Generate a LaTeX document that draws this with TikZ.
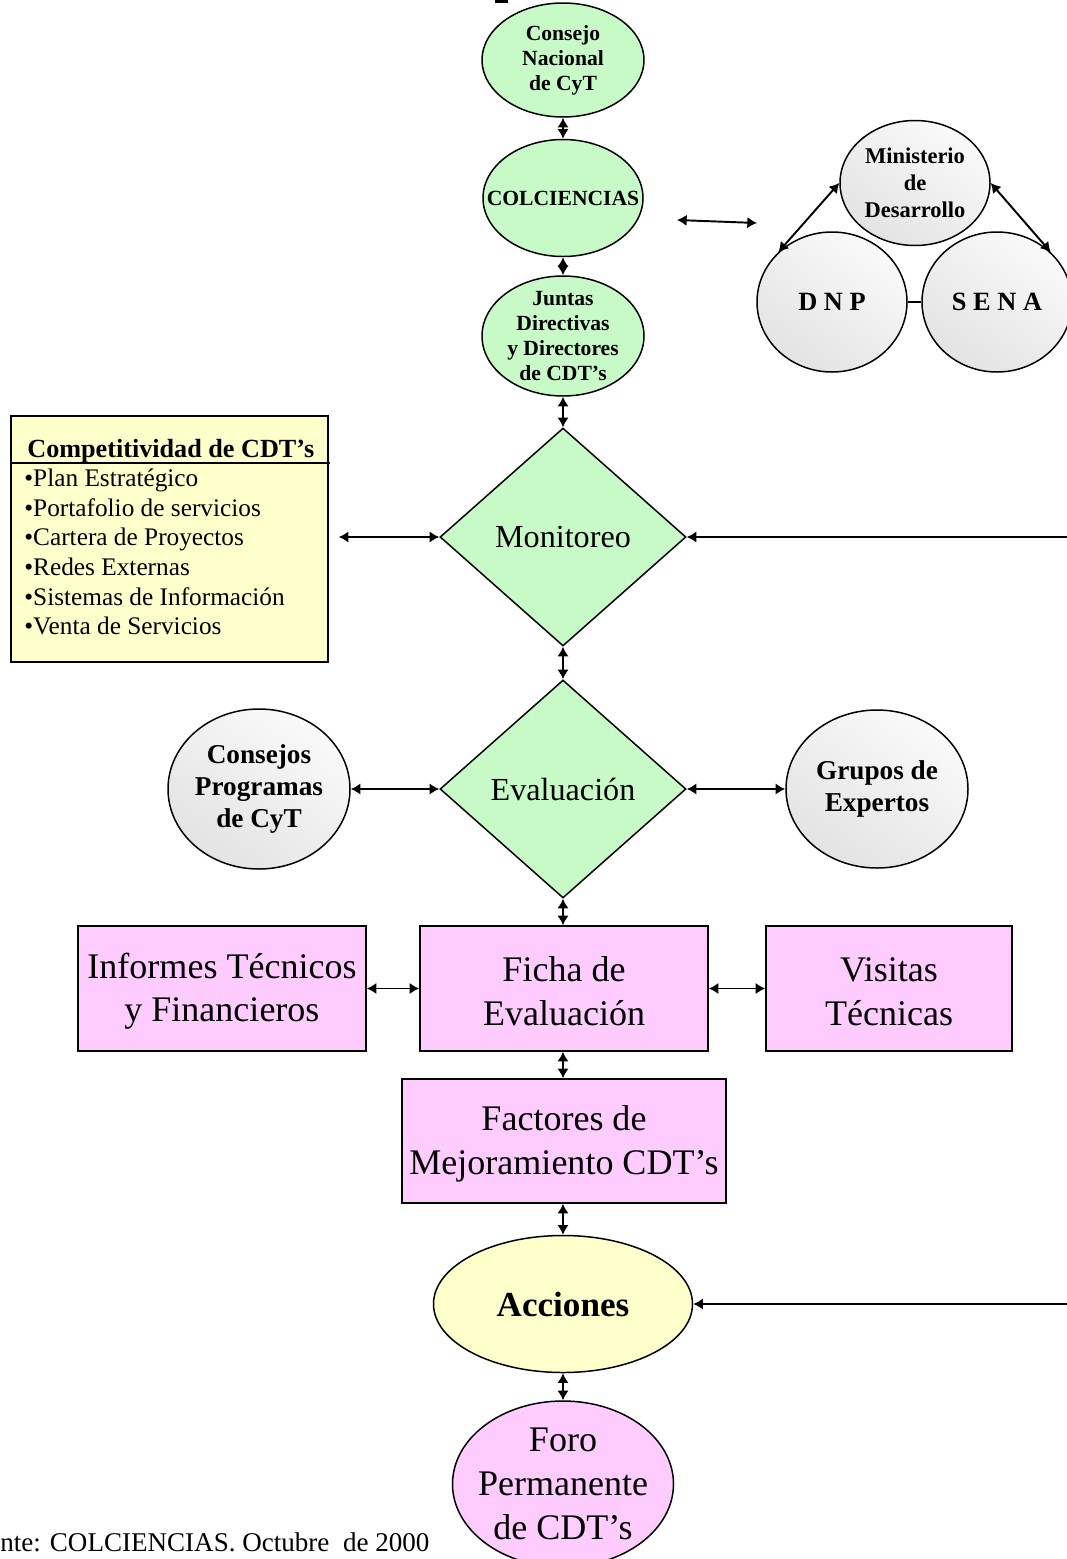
\documentclass[tikz,border=0pt]{standalone}
\usepackage{fontspec}
\setmainfont{Liberation Serif}
\usetikzlibrary{shapes.geometric,arrows.meta}
\definecolor{verde}{RGB}{200,250,200}
\definecolor{rosa}{RGB}{255,204,255}
\definecolor{amar}{RGB}{255,255,204}

\begin{document}
\begin{tikzpicture}[x=0.02cm,y=-0.02cm,
  every node/.style={inner sep=0pt},
  sz/.style 2 args={minimum width=#1*0.02cm, minimum height=#2*0.02cm},
  ell/.style={ellipse,draw,line width=0.85pt},
  verd/.style={ell,fill=verde},
  gry/.style={ell,top color=gray!4,bottom color=gray!22,shading angle=-35},
  bx/.style={rectangle,draw,line width=0.85pt,fill=rosa,align=center,
    font=\fontsize{20.5}{25}\selectfont},
  dia/.style={diamond,draw,line width=0.85pt,fill=verde,sz={246}{218},
    font=\fontsize{18.3}{21}\selectfont},
  bt/.style={align=center,font=\fontsize{12.3}{14.2}\selectfont\bfseries},
  bt2/.style={align=center,font=\fontsize{15.5}{18.4}\selectfont\bfseries},
  lst/.style={font=\fontsize{14.4}{17}\selectfont},
  dbl/.style={{Latex[length=5.5pt,width=6.5pt]}-{Latex[length=5.5pt,width=6.5pt]},line width=1.1pt},
  one/.style={-{Latex[length=5.5pt,width=6.5pt]},line width=1.1pt}]
  \useasboundingbox (0,0) rectangle (1067,1559);
  \fill (495,0) rectangle (508,2.5);

  \node[verd,sz={162}{114},label={[bt]center:{Consejo\\Nacional\\de CyT}}] (cn) at (563,60) {};
  \node[verd,sz={160}{117},label={[bt]center:COLCIENCIAS}] (col) at (563,198) {};
  \node[verd,sz={162}{120},label={[bt]center:{Juntas\\Directivas\\y Directores\\de CDT’s}}] (jd) at (563,336) {};

  \node[gry,sz={150}{125},label={[align=center,font=\fontsize{12.8}{15.3}\selectfont\bfseries]center:{Ministerio\\de\\Desarrollo}}] (mi) at (915,183) {};
  \node[gry,sz={150}{140},label={[font=\fontsize{15}{18}\selectfont\bfseries]center:D N P}] (dnp) at (832,302) {};
  \node[gry,sz={150}{140},label={[font=\fontsize{15}{18}\selectfont\bfseries]center:S E N A}] (sen) at (997,302) {};
  \coordinate (f1) at (677,220);
  \coordinate (f2) at (757,223);

  \node[rectangle,draw,line width=0.85pt,fill=amar,sz={317}{246}] (cmp) at (169.5,539) {};
  \node[anchor=base west,font=\fontsize{14.9}{17}\selectfont\bfseries] (cmp-t) at (27,457) {Competitividad de CDT’s};
  \draw[line width=0.85pt] (cmp.west |- 0,463) -- (330,463);
  \foreach \s [count=\i] in {Plan Estratégico,Portafolio de servicios,Cartera de Proyectos,
      Redes Externas,Sistemas de Información,Venta de Servicios}
    \node[lst,anchor=base west] (it\i) at (24,457+29.6*\i) {•\s};

  \node[dia] (mon) at (563,537) {Monitoreo};
  \coordinate (r1) at (1067,537);
  \node[dia] (ev) at (563,789) {Evaluación};
  \node[gry,sz={182}{160},label={[bt2]center:{Consejos\\Programas\\de CyT}}] (cp) at (259,789) {};
  \node[gry,sz={182}{158},label={[bt2]center:{Grupos de\\Expertos}}] (gx) at (877,789) {};

  \node[bx,sz={288}{125}] (inf) at (222,988.5) {\strut Informes Técnicos\\y Financieros};
  \node[bx,sz={288}{125}] (fi) at (564,988.5) {\strut Ficha de\\Evaluación};
  \node[bx,sz={246}{125}] (vis) at (889,988.5) {\strut Visitas\\Técnicas};
  \node[bx,sz={324}{124}] (fa) at (564,1141) {\strut Factores de\\Mejoramiento CDT’s};

  \node[ell,fill=amar,sz={259}{137},label={[font=\fontsize{20}{24}\selectfont\bfseries]center:Acciones}] (ac) at (563,1304) {};
  \coordinate (r2) at (1067,1304);
  \node[ell,fill=rosa,sz={221}{166},label={[align=center,font=\fontsize{20.5}{25}\selectfont]center:{Foro\\Permanente\\de CDT’s}}] (fo) at (563,1484) {};

  \node[anchor=base west,font=\fontsize{15.4}{18}\selectfont] (fte) at (0,1551) {nte: COLCIENCIAS. Octubre \ de 2000};

  \draw[dbl] (cn.south) -- (col.north);
  \draw[dbl] (col.south) -- (jd.north);
  \draw[dbl] (jd.south) -- (mon.north);
  \draw[dbl] (mon.south) -- (ev.north);
  \draw[dbl] (ev.south) -- (fi.north -| ev.south);
  \draw[dbl] (fi.south -| ev.south) -- (fa.north -| ev.south);
  \draw[dbl] (fa.south -| ev.south) -- (ac.north);
  \draw[dbl] (ac.south) -- (fo.north);
  \draw[dbl] (f1) -- (f2);
  \draw[dbl] (mi.west) -- (dnp.north west);
  \draw[dbl] (mi.east) -- (sen.north east);
  \draw[line width=0.85pt] (dnp.east) -- (sen.west);
  \draw[dbl,shorten <=10*0.02cm] (cmp.east |- mon.west) -- (mon.west);
  \draw[one] (r1) -- (mon.east);
  \draw[dbl] (cp.east) -- (ev.west);
  \draw[dbl] (ev.east) -- (gx.west);
  \draw[dbl] (inf.east) -- (fi.west);
  \draw[dbl] (fi.east) -- (vis.west);
  \draw[one] (r2) -- (ac.east);
\end{tikzpicture}
\end{document}
